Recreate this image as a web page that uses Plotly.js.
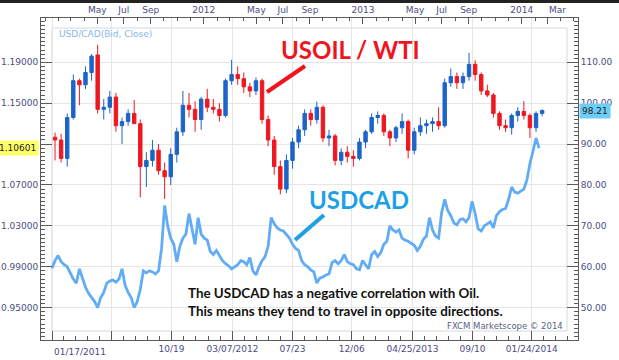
<!DOCTYPE html>
<html><head><meta charset="utf-8">
<script src="https://cdn.plot.ly/plotly-3.0.1.min.js"></script>
<style>
html,body{margin:0;padding:0;background:#fff;overflow:hidden}
#chart{width:619px;height:360px}
#topbar{position:absolute;left:0;top:0;width:619px;height:3px;background:#222}
</style>
</head><body>
<div id="chart"></div><div id="topbar"></div>
<script>
// ---------------- DATA ----------------
// USD/CAD close, weekly samples starting 2011-01-17
const cadStart = '2011-01-17';
const cadStepDays = 7;
const cadClose = [
0.9885,0.9960,1.0010,0.9950,0.9920,0.9900,0.9840,0.9780,0.9740,0.9880,
0.9790,0.9700,0.9640,0.9600,0.9560,0.9500,0.9600,0.9650,0.9740,0.9760,
0.9770,0.9750,0.9780,0.9880,0.9720,0.9650,0.9600,0.9500,0.9560,0.9680,
0.9860,0.9840,0.9860,0.9850,0.9830,0.9860,1.0080,1.0500,1.0300,1.0180,
1.0120,0.9950,1.0100,1.0180,1.0220,1.0420,1.0280,1.0120,1.0380,1.0220,
1.0180,1.0160,1.0050,1.0020,1.0060,1.0010,0.9960,0.9930,0.9910,0.9880,
0.9900,0.9920,0.9960,0.9950,0.9920,0.9990,0.9860,0.9820,0.9900,0.9960,
1.0000,1.0100,1.0380,1.0320,1.0280,1.0260,1.0250,1.0210,1.0180,1.0120,
1.0080,1.0060,0.9960,0.9920,0.9900,0.9870,0.9850,0.9740,0.9790,0.9800,
0.9820,0.9830,0.9940,0.9960,0.9930,0.9960,1.0020,0.9950,0.9930,0.9920,
0.9880,0.9870,0.9960,0.9920,0.9880,1.0020,1.0050,1.0000,1.0040,1.0120,
1.0150,1.0300,1.0260,1.0240,1.0260,1.0180,1.0160,1.0150,1.0130,1.0110,
1.0060,1.0100,1.0170,1.0200,1.0380,1.0260,1.0200,1.0180,1.0430,1.0560,
1.0450,1.0400,1.0330,1.0310,1.0360,1.0370,1.0340,1.0380,1.0540,1.0420,
1.0270,1.0250,1.0300,1.0320,1.0340,1.0280,1.0400,1.0440,1.0460,1.0470,
1.0560,1.0680,1.0630,1.0620,1.0640,1.0660,1.0750,1.0910,1.1030,1.1160,
1.10601
];

// USOIL / WTI two-week candles starting 2011-01-24
const oilStart = '2011-01-24';
const oilStepDays = 14;
const oilOpen = [
91.7,91.0,86.5,96.5,105.5,104.5,107.5,111.8,98.5,99.0,
101.5,94.5,95.5,97.5,95.0,84.5,86.0,88.5,83.5,82.0,
87.5,93.0,99.5,98.5,96.0,101.0,99.0,98.5,97.0,105.5,
107.0,106.0,104.0,103.0,105.5,96.0,91.0,84.5,79.0,86.0,
90.5,93.5,97.5,96.0,99.0,91.5,92.0,86.0,88.0,87.0,
86.5,90.5,93.0,96.5,97.0,93.0,91.5,94.0,95.5,88.5,
93.0,94.5,95.0,95.5,94.5,105.0,106.5,105.0,106.5,109.5,
107.0,103.0,102.0,97.5,94.5,94.0,97.0,98.0,97.0,94.0,
97.5];
const oilHigh = [
92.8,92.5,97.5,107.0,106.0,109.0,112.0,114.3,101.0,103.0,
102.5,96.5,98.5,100.8,96.0,88.0,91.0,90.0,85.5,89.0,
94.0,103.0,102.5,100.5,101.5,103.5,101.0,100.0,106.0,110.6,
109.0,107.5,105.0,106.3,106.0,97.0,92.0,86.0,87.5,91.5,
94.5,98.5,98.5,100.4,99.5,93.5,92.5,89.0,89.5,88.5,
91.5,93.5,97.5,98.0,97.5,93.5,94.5,97.5,96.0,94.0,
96.5,96.0,96.5,99.0,106.0,108.5,107.5,107.5,112.3,110.5,
107.5,104.5,102.5,98.0,96.0,97.5,99.0,100.5,97.5,98.0,
98.5];
const oilLow = [
86.0,85.5,84.5,96.0,99.5,103.5,105.5,97.5,96.0,97.5,
93.0,90.0,94.5,96.5,77.0,79.5,84.5,82.5,76.6,80.0,
85.5,92.0,96.5,93.0,93.5,97.8,97.5,95.5,96.5,104.5,
104.5,102.5,101.5,102.0,95.0,89.5,82.5,77.7,78.0,84.0,
89.0,92.0,94.5,95.0,90.5,89.5,84.8,84.8,85.5,84.5,
86.0,89.0,92.5,95.0,92.0,89.5,90.5,92.5,86.5,87.5,
92.0,92.5,93.0,93.5,94.0,104.0,103.5,103.5,105.5,105.5,
102.0,101.5,96.5,93.5,93.0,92.3,95.5,96.0,91.5,93.0,
96.8];
const oilClose = [
91.0,86.5,96.5,105.5,104.5,107.5,111.5,98.5,99.0,101.5,
94.5,95.5,97.5,95.0,84.5,86.0,88.5,83.5,82.0,87.5,
93.0,99.5,98.5,96.0,101.0,99.0,98.5,97.0,105.5,107.0,
106.0,104.0,103.0,105.5,96.0,91.0,84.5,79.0,86.0,90.5,
93.5,97.5,96.0,99.0,91.5,92.0,86.0,88.0,87.0,86.5,
90.5,93.0,96.5,97.0,93.0,91.5,94.0,95.5,88.5,93.0,
94.5,95.0,95.5,94.5,105.0,106.5,105.0,106.5,109.5,107.0,
103.0,102.0,97.5,94.5,94.0,97.0,98.0,97.0,94.0,97.5,
98.21];

// axis ticks
const cadTicks = [0.95,0.99,1.03,1.07,1.11,1.15,1.19];
const oilTicks = [50,60,70,80,90,100,110];
const bottomTickVals = ['2011-01-17','2011-06-02','2011-10-19','2012-03-07','2012-07-23','2012-12-06','2013-04-25','2013-09-10','2014-01-24'];
const bottomTickText = ['01/17/2011','','10/19','03/07/2012','07/23','12/06','04/25/2013','09/10','01/24/2014'];
const topTickVals = ['2011-05-01','2011-07-01','2011-09-01','2012-01-01','2012-05-01','2012-07-01','2012-09-01','2013-01-01','2013-05-01','2013-07-01','2013-09-01','2014-01-01','2014-03-01'];
const topTickText = ['May','Jul','Sep','2012','May','Jul','Sep','2013','May','Jul','Sep','2014','Mar'];

const chartTitle = 'USD/CAD(Bid, Close)';
const oilLabel = 'USOIL / WTI';
const cadLabel = 'USDCAD';
const noteLines = ['The USDCAD has a negative correlation with Oil.','This means they tend to travel in opposite directions.'];
const credit = 'FXCM Marketscope \u00a9 2014';

// ---------------- BUILD ----------------
const DAY = 86400000;
function fmt(ms){
  const d = new Date(ms);
  const p = n => String(n).padStart(2,'0');
  return d.getUTCFullYear()+'-'+p(d.getUTCMonth()+1)+'-'+p(d.getUTCDate())+' '+p(d.getUTCHours())+':'+p(d.getUTCMinutes());
}
function seq(start, step, n){
  const t0 = Date.parse(start + 'T00:00:00Z');
  const out = [];
  for(let i=0;i<n;i++) out.push(fmt(t0 + i*step*DAY).slice(0,10));
  return out;
}
const cadDates = seq(cadStart, cadStepDays, cadClose.length);
const oilDates = seq(oilStart, oilStepDays, oilClose.length);

// minor ticks on bottom axis: 5 intervals between majors
const minorBottom = [];
const bt = bottomTickVals.map(d => Date.parse(d+'T00:00:00Z'));
for(let i=0;i<bt.length;i++){
  const next = i < bt.length-1 ? bt[i+1] : bt[i] + (bt[i]-bt[i-1]);
  for(let k=1;k<5;k++) minorBottom.push(fmt(bt[i] + (next-bt[i])*k/5));
}

const xRange = ['2010-12-22 17:00','2014-05-10 12:00'];
const axisCol = '#5a5a5a';
const labCol = '#4a4d82';
const gridCol = '#e6e6e6';

const traces = [
  {
    type:'scatter', mode:'lines', x: cadDates, y: cadClose,
    xaxis:'x', yaxis:'y',
    line:{color:'#62acf6', width:2.8}, hoverinfo:'skip'
  },
  {
    type:'candlestick', x: oilDates, open: oilOpen, high: oilHigh, low: oilLow, close: oilClose,
    xaxis:'x', yaxis:'y2',
    increasing:{line:{color:'#1c64c8', width:1}, fillcolor:'#1c64c8'},
    decreasing:{line:{color:'#ee1820', width:1}, fillcolor:'#ee1820'},
    whiskerwidth:0, hoverinfo:'skip'
  },
  {
    type:'scatter', mode:'lines', x: topTickVals, y: topTickVals.map(()=>null),
    xaxis:'x2', yaxis:'y', hoverinfo:'skip', showlegend:false
  }
];

const cadLast = cadClose[cadClose.length-1];
const oilLast = oilClose[oilClose.length-1];

function px(x){ return (x-41)/537; }
function py(y){ return (340-y)/322; }

const layout = {
  width:619, height:360,
  margin:{l:41, r:41, t:18, b:20, pad:0},
  paper_bgcolor:'#ffffff', plot_bgcolor:'#ffffff',
  showlegend:false,
  boxgap:0.2,
  font:{family:'DejaVu Sans', size:9, color:labCol},
  xaxis:{
    type:'date', range:xRange, autorange:false, tickmode:'array', tickvals:bottomTickVals,
    ticktext: bottomTickText.map((t,i)=> i===0 ? '' : t),
    ticks:'inside', ticklen:9, tickcolor:axisCol, showline:true, linecolor:axisCol,
    showgrid:true, gridcolor:gridCol, zeroline:false, rangeslider:{visible:false},
    minor:{tickmode:'array', tickvals:minorBottom, ticks:'inside', ticklen:4, tickcolor:axisCol, showgrid:false},
    tickfont:{size:9, color:labCol}
  },
  xaxis2:{
    type:'date', overlaying:'x', side:'top', anchor:'y', range:xRange, autorange:false,
    tickmode:'array', tickvals:topTickVals,
    ticktext: topTickText.map((t,i)=> i===topTickText.length-1 ? '' : t),
    ticks:'inside', ticklen:6, tickcolor:axisCol, showline:true, linecolor:axisCol,
    showgrid:false, zeroline:false,
    minor:{dtick:'M1', ticks:'inside', ticklen:3, tickcolor:axisCol, showgrid:false},
    tickfont:{size:9, color:labCol}
  },
  yaxis:{
    range:[0.9184,1.2333], autorange:false, tickmode:'array', tickvals:cadTicks,
    ticktext: cadTicks.map(v=> v===1.11 ? '' : v.toFixed(5)),
    ticks:'inside', ticklen:11, tickcolor:axisCol, showline:true, linecolor:axisCol,
    showgrid:true, gridcolor:gridCol, zeroline:false,
    minor:{dtick:0.004, tick0:0.95, ticks:'inside', ticklen:4, tickcolor:axisCol, showgrid:false},
    tickfont:{size:9, color:labCol}
  },
  yaxis2:{
    overlaying:'y', side:'right', anchor:'x', range:[42.10,120.83], autorange:false, tickmode:'array', tickvals:oilTicks,
    ticktext: oilTicks.map(v=>v.toFixed(2)),
    ticks:'inside', ticklen:11, tickcolor:axisCol, showline:true, linecolor:axisCol,
    showgrid:false, zeroline:false,
    minor:{dtick:1, tick0:50, ticks:'inside', ticklen:4, tickcolor:axisCol, showgrid:false},
    tickfont:{size:9, color:labCol}
  },
  shapes:[
    {type:'rect', xref:'paper', yref:'paper', x0:px(52), x1:px(567), y0:py(331), y1:py(28),
     line:{color:'#d3d8e0', width:1}, fillcolor:'rgba(0,0,0,0)', layer:'below'},
    {type:'line', xref:'paper', yref:'paper', x0:px(267), y0:py(92), x1:px(305), y1:py(66),
     line:{color:'#f0141e', width:4}},
    {type:'line', xref:'paper', yref:'paper', x0:px(295), y0:py(240), x1:px(324), y1:py(215),
     line:{color:'#1ea0e6', width:4}}
  ],
  annotations:[
    {text:chartTitle, xref:'paper', yref:'paper', x:px(57), y:py(34), xanchor:'left', yanchor:'middle',
     showarrow:false, font:{family:'DejaVu Sans', size:9, color:'#86b8ec'}},
    {text:oilLabel, xref:'paper', yref:'paper', x:px(351), y:py(49), xanchor:'center', yanchor:'middle',
     showarrow:false, font:{family:'Lato', size:24, weight:700, color:'#f0141e'}},
    {text:cadLabel, xref:'paper', yref:'paper', x:px(359), y:py(199), xanchor:'center', yanchor:'middle',
     showarrow:false, font:{family:'Lato', size:24, weight:700, color:'#1ea0e6'}},
    {text:noteLines[0], xref:'paper', yref:'paper', x:px(186), y:py(293), xanchor:'left', yanchor:'middle',
     showarrow:false, font:{family:'Lato', size:13.4, weight:700, color:'#111'}},
    {text:noteLines[1], xref:'paper', yref:'paper', x:px(186), y:py(311), xanchor:'left', yanchor:'middle',
     showarrow:false, font:{family:'Lato', size:13.4, weight:700, color:'#111'}},
    {text:credit, xref:'paper', yref:'paper', x:px(565), y:py(326), xanchor:'right', yanchor:'middle',
     showarrow:false, font:{family:'DejaVu Sans', size:8.5, color:'#5a6285'}},
    {text:bottomTickText[0], xref:'x', yref:'paper', x:bottomTickVals[0], y:py(352), xanchor:'left', yanchor:'middle',
     showarrow:false, font:{family:'DejaVu Sans', size:9, color:labCol}},
    {text:topTickText[topTickText.length-1], xref:'x', yref:'paper', x:topTickVals[topTickVals.length-1], y:py(10), xanchor:'left', yanchor:'middle',
     showarrow:false, font:{family:'DejaVu Sans', size:9, color:labCol}},
    {text:cadLast.toFixed(5), xref:'paper', yref:'y', x:0, y:cadLast, xanchor:'right', yanchor:'middle', xshift:-2,
     showarrow:false, bgcolor:'#ffff66', borderpad:2, font:{family:'DejaVu Sans', size:9, color:'#222'}},
    {text:oilLast.toFixed(2), xref:'paper', yref:'y2', x:1, y:oilLast, xanchor:'left', yanchor:'middle', xshift:1,
     showarrow:false, bgcolor:'#6ccdf7', borderpad:2, font:{family:'DejaVu Sans', size:9, color:'#222'}}
  ]
};

Plotly.newPlot('chart', traces, layout, {displayModeBar:false});
</script>
</body></html>
